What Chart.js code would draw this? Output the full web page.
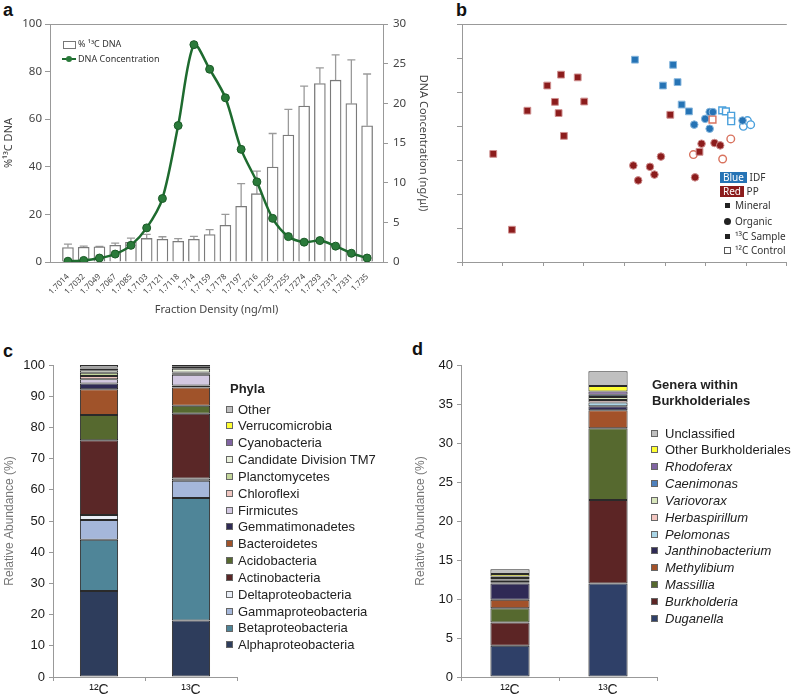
<!DOCTYPE html>
<html>
<head>
<meta charset="utf-8">
<script src="https://cdn.jsdelivr.net/npm/chart.js@4.4.0/dist/chart.umd.min.js"></script>
<style>
  body { margin: 0; width: 793px; height: 697px; overflow: hidden; background: #fff; position: relative; }
  canvas { position: absolute; }
  .abs { position: absolute; white-space: nowrap; }
  .panel { position: absolute; font: bold 18px "Liberation Sans", Arial, sans-serif; color: #111; line-height: 18px; }
  .legA { font: 9px "Noto Sans", sans-serif; color: #333; line-height: 12px; }
  .legB { font: 10px "Noto Sans", sans-serif; color: #333; line-height: 12px; }
  .tag { display: inline-block; color: #fff; padding: 0 3px; line-height: 11px; }
  .legList { position: absolute; font: 13px "Liberation Sans", Arial, sans-serif; color: #222; }
  .legList .row { height: 16.85px; line-height: 16.85px; white-space: nowrap; }
  .legList .sw { display: inline-block; width: 5px; height: 5px; border: 1px solid #666; vertical-align: middle; position: relative; top: -1px; }
  .legTitle { position: absolute; font: bold 13px "Liberation Sans", Arial, sans-serif; color: #222; line-height: 16px; }
</style>
</head>
<body>
<div class="panel" style="left:3px;top:1px">a</div>
<div class="panel" style="left:456px;top:1px">b</div>
<div class="panel" style="left:3px;top:342px">c</div>
<div class="panel" style="left:412px;top:340px">d</div>

<canvas id="chartA" width="440" height="320" style="left:0;top:0"></canvas>
<canvas id="chartB" width="353" height="290" style="left:440px;top:0"></canvas>
<canvas id="chartC" width="240" height="357" style="left:0;top:340px"></canvas>
<canvas id="chartD" width="260" height="357" style="left:400px;top:340px"></canvas>

<!-- legend a -->
<div class="abs" style="left:63px;top:41px;width:11px;height:6px;border:1px solid #777;background:#fff"></div>
<div class="abs legA" style="left:78px;top:38px">% ¹³C DNA</div>
<div class="abs" style="left:62px;top:58px;width:14px;height:2px;background:#1e6b2f"></div>
<div class="abs" style="left:66px;top:56px;width:6px;height:6px;border-radius:50%;background:#2a7a3a"></div>
<div class="abs legA" style="left:78px;top:53px">DNA Concentration</div>

<!-- legend b -->
<div class="abs legB" style="left:720px;top:171px"><span class="tag" style="background:#2573b5">Blue</span> IDF</div>
<div class="abs legB" style="left:720px;top:185px"><span class="tag" style="background:#8c1c1c">Red</span> PP</div>
<div class="abs" style="left:725px;top:203px;width:5px;height:5px;background:#222"></div>
<div class="abs legB" style="left:735px;top:199px">Mineral</div>
<div class="abs" style="left:724px;top:218px;width:7px;height:7px;border-radius:50%;background:#222"></div>
<div class="abs legB" style="left:735px;top:215px">Organic</div>
<div class="abs" style="left:725px;top:234px;width:5px;height:5px;background:#222"></div>
<div class="abs legB" style="left:735px;top:230px">¹³C Sample</div>
<div class="abs" style="left:724px;top:247px;width:5px;height:5px;border:1px solid #555"></div>
<div class="abs legB" style="left:735px;top:244px">¹²C Control</div>

<!-- legend c / d -->
<div class="legTitle" style="left:230px;top:381px">Phyla</div>
<div class="legList" id="legC" style="left:226px;top:401.5px"></div>
<div class="legTitle" style="left:652px;top:377px">Genera within<br>Burkholderiales</div>
<div class="legList" id="legD" style="left:651px;top:425.5px"></div>

<script>
// ---- panel a: fractions ----
const fractions = ['1.7014', '1.7032', '1.7049', '1.7067', '1.7085', '1.7103', '1.7121', '1.7118', '1.714', '1.7159',
    '1.7178', '1.7197', '1.7216', '1.7235', '1.7255', '1.7274', '1.7293', '1.7312', '1.7331', '1.735'];
const pct13C = [6.1, 6.2, 6.4, 7.0, 8.3, 9.9, 9.5, 8.7, 9.5, 11.5, 15.4, 23.4, 28.7, 39.9, 53.3, 65.5, 75.0, 76.4, 66.6, 57.2];
const pct13CErr = [7.5, 6.7, 6.6, 7.9, 10.0, 11.6, 10.6, 9.8, 10.8, 13.6, 20.0, 32.9, 38.2, 54.0, 64.1, 73.9, 81.6, 87.0, 84.9, 79.0];
const dnaConc = [0.1, 0.2, 0.5, 1.0, 2.1, 4.3, 8.0, 17.2, 27.4, 24.3, 20.7, 14.2, 10.1, 5.5, 3.2, 2.5, 2.7, 2.0, 1.1, 0.5];

// ---- panel b: ordination points [x, y] ----
const ppMineral13 = [[0.77, 3.18], [1.23, 0.95], [1.61, 4.45], [2.10, 5.19], [2.44, 5.51], [2.85, 5.43], [2.29, 4.71],
    [2.38, 4.38], [3.01, 4.72], [2.51, 3.71], [5.13, 4.33], [5.85, 3.24]];
const ppOrganic13 = [[4.22, 2.84], [4.34, 2.40], [4.63, 2.80], [4.74, 2.57], [4.90, 3.10], [5.74, 2.49], [5.90, 3.48],
    [6.22, 3.50], [6.36, 3.43]];
const ppMineral12 = [[6.17, 4.19]];
const ppOrganic12 = [[5.70, 3.16], [6.42, 3.03], [6.62, 3.62]];
const idfMineral13 = [[4.26, 5.95], [5.20, 5.80], [4.95, 5.19], [5.31, 5.29], [5.41, 4.63], [5.59, 4.43]];
const idfOrganic13 = [[5.72, 4.04], [5.99, 4.21], [6.10, 4.41], [6.18, 4.41], [6.10, 3.92], [6.91, 4.16]];
const idfMineral12 = [[6.41, 4.46], [6.50, 4.43], [6.63, 4.30], [6.63, 4.14]];
const idfOrganic12 = [[6.93, 3.99], [7.03, 4.16], [7.11, 4.04]];

// ---- panel c: phyla (bottom to top) ----
const samples = ['¹²C', '¹³C'];
const phyla = ['Alphaproteobacteria', 'Betaproteobacteria', 'Gammaproteobacteria', 'Deltaproteobacteria', 'Actinobacteria',
    'Acidobacteria', 'Bacteroidetes', 'Gemmatimonadetes', 'Firmicutes', 'Chloroflexi', 'Planctomycetes',
    'Candidate Division TM7', 'Cyanobacteria', 'Verrucomicrobia', 'Other'];
const phylaC12 = [27.6, 16.4, 6.3, 1.6, 24.0, 8.1, 8.2, 1.9, 1.3, 1.1, 1.0, 0.8, 0.6, 0.3, 0.8];
const phylaC13 = [18.1, 39.3, 5.5, 0.7, 20.8, 2.5, 5.9, 0.6, 3.5, 0.3, 0.4, 1.2, 0.2, 0.4, 0.6];
const phylaColors = ['#2e3d5c', '#4f8598', '#a5b7da', '#e9eef7', '#5a2727', '#56692f', '#a0532a', '#2f2b55',
    '#d3c8e2', '#f0c6c0', '#c3d69b', '#eaf1dc', '#8064a2', '#ffff33', '#bfbfbf'];

// ---- panel d: genera (bottom to top) ----
const genera = ['Duganella', 'Burkholderia', 'Massillia', 'Methylibium', 'Janthinobacterium', 'Pelomonas',
    'Herbaspirillum', 'Variovorax', 'Caenimonas', 'Rhodoferax', 'Other Burkholderiales', 'Unclassified'];
const generaC12 = [4.0, 3.0, 1.8, 1.1, 2.1, 0.15, 0.2, 0.15, 0.2, 0.2, 0.3, 0.6];
const generaC13 = [12.0, 10.7, 9.2, 2.3, 0.5, 0.5, 0.3, 0.4, 0.3, 0.4, 0.7, 1.9];
const generaColors = ['#2f4068', '#5c2525', '#56692f', '#a3522a', '#2f2a55', '#a9d5e6', '#f2c6c0', '#d8e6bc',
    '#4f81bd', '#8064a2', '#ffff33', '#c0c0c0'];
const italicGenera = 10; // first 10 are genus names

const topBorder = {
    id: 'topBorder',
    afterDraw(chart) {
        const { ctx, chartArea } = chart;
        ctx.save();
        ctx.strokeStyle = '#999';
        ctx.lineWidth = 1;
        ctx.beginPath();
        ctx.moveTo(chartArea.left, chartArea.top + 0.5);
        ctx.lineTo(chartArea.right, chartArea.top + 0.5);
        ctx.stroke();
        ctx.restore();
    }
};

// upper error bars on the %13C bars
const errorBars = {
    id: 'errorBars',
    beforeDatasetsDraw(chart) {
        const { ctx, scales } = chart;
        ctx.save();
        ctx.strokeStyle = '#9a9a9a';
        ctx.lineWidth = 1.3;
        pct13C.forEach((v, i) => {
            const x = scales.x.getPixelForValue(i);
            const y0 = scales.y.getPixelForValue(v);
            const y1 = scales.y.getPixelForValue(pct13CErr[i]);
            ctx.beginPath();
            ctx.moveTo(x, y0);
            ctx.lineTo(x, y1);
            ctx.moveTo(x - 4, y1);
            ctx.lineTo(x + 4, y1);
            ctx.stroke();
        });
        ctx.restore();
    }
};

const grayAxis = { color: '#999', width: 1 };
const sansA = 'Noto Sans';

// ---------- chart a ----------
new Chart(document.getElementById('chartA'), {
    type: 'bar',
    data: {
        datasets: [{
            type: 'line',
            label: 'DNA Concentration',
            data: dnaConc.map((v, i) => ({ x: i, y: v })),
            yAxisID: 'y2',
            borderColor: '#1e6b2f',
            borderWidth: 2.5,
            pointRadius: 4,
            pointBackgroundColor: '#2a7a3a',
            pointBorderColor: '#1b5a27',
            pointBorderWidth: 1,
            tension: 0.3,
            order: 0
        }, {
            label: '%13C DNA',
            data: pct13C.map((v, i) => ({ x: i, y: v })),
            yAxisID: 'y',
            backgroundColor: '#fff',
            borderColor: '#7a7a7a',
            borderWidth: 1.3,
            barThickness: 11,
            order: 1
        }]
    },
    options: {
        responsive: false,
        animation: false,
        layout: { padding: { top: 24, left: 0, right: 0, bottom: 0 } },
        plugins: { legend: { display: false }, tooltip: { enabled: false } },
        scales: {
            x: {
                type: 'linear',
                min: -1.14,
                max: 20.01,
                offset: false,
                afterBuildTicks: (axis) => { axis.ticks = fractions.map((_, i) => ({ value: i })); },
                afterFit: (axis) => { axis.height = 58; },
                grid: { display: false },
                border: grayAxis,
                ticks: {
                    autoSkip: false, maxRotation: 45, minRotation: 45, padding: 2,
                    font: { family: sansA, size: 8 }, color: '#444',
                    callback: (v) => fractions[v] ?? ''
                },
                title: {
                    display: true, text: 'Fraction Density (ng/ml)', color: '#444',
                    font: { family: sansA, size: 11 }, padding: { top: 0, bottom: 4 }
                }
            },
            y: {
                min: 0, max: 100,
                afterFit: (axis) => { axis.width = 50; },
                ticks: { stepSize: 20, font: { family: sansA, size: 11.5 }, color: '#444', padding: 3 },
                grid: { drawOnChartArea: false, tickLength: 5, color: '#999' },
                border: grayAxis,
                title: {
                    display: true, text: '%¹³C DNA', color: '#444',
                    font: { family: sansA, size: 11 }, padding: { top: 2, bottom: 0 }
                }
            },
            y2: {
                position: 'right',
                min: 0, max: 30,
                afterFit: (axis) => { axis.width = 57; },
                ticks: { stepSize: 5, font: { family: sansA, size: 11.5 }, color: '#444', padding: 5 },
                grid: { drawOnChartArea: false, tickLength: 5, color: '#999' },
                border: grayAxis,
                title: {
                    display: true, text: 'DNA Concentration (ng/μl)', color: '#444',
                    font: { family: sansA, size: 11 }, padding: { top: 10, bottom: 0 }
                }
            }
        }
    },
    plugins: [topBorder, errorBars]
});

// ---------- chart b ----------
const redFill = '#8c1c1c', redEdge = '#cf8f8f', redOpen = '#d9735f';
const blueFill = '#2573b5', blueEdge = '#86b6dd', blueOpen = '#4aa0dc';
function pts(arr) { return arr.map(p => ({ x: p[0], y: p[1] })); }
function sq(data, bg, edge, w) { return { data: pts(data), pointStyle: 'rect', pointRadius: 4.8, backgroundColor: bg, borderColor: edge, borderWidth: w }; }
function dot(data, bg, edge, w) { return { data: pts(data), pointStyle: 'circle', pointRadius: 3.8, backgroundColor: bg, borderColor: edge, borderWidth: w }; }

new Chart(document.getElementById('chartB'), {
    type: 'scatter',
    data: {
        datasets: [
            sq(ppMineral13, redFill, redEdge, 1),
            dot(ppOrganic13, redFill, redEdge, 1),
            sq(ppMineral12, '#fff', redOpen, 1.4),
            dot(ppOrganic12, '#fff', redOpen, 1.4),
            sq(idfMineral13, blueFill, blueEdge, 1),
            dot(idfOrganic13, blueFill, blueEdge, 1),
            sq(idfMineral12, '#fff', blueOpen, 1.4),
            dot(idfOrganic12, '#fff', blueOpen, 1.4)
        ]
    },
    options: {
        responsive: false,
        animation: false,
        layout: { padding: { top: 24, left: 0, right: 1, bottom: 0 } },
        plugins: { legend: { display: false }, tooltip: { enabled: false } },
        scales: {
            x: {
                min: 0, max: 8,
                afterFit: (axis) => { axis.height = 28; },
                ticks: { display: false, stepSize: 1 },
                grid: { drawOnChartArea: false, tickLength: 4, color: '#999' },
                border: grayAxis
            },
            y: {
                min: 0, max: 7,
                afterFit: (axis) => { axis.width = 22; },
                ticks: { display: false, stepSize: 1 },
                grid: { drawOnChartArea: false, tickLength: 5, color: '#999' },
                border: grayAxis
            }
        }
    },
    plugins: [topBorder]
});

// ---------- stacked bars c and d ----------
function stackedChart(id, names, v12, v13, colors, yMax, yStep, yWidth, titlePad, barPct) {
    new Chart(document.getElementById(id), {
        type: 'bar',
        data: {
            labels: samples,
            datasets: names.map((n, i) => ({
                label: n,
                data: [v12[i], v13[i]],
                backgroundColor: colors[i],
                borderColor: '#2a2a2a',
                borderWidth: 1,
                borderSkipped: false,
                barPercentage: barPct,
                categoryPercentage: 1
            }))
        },
        options: {
            responsive: false,
            animation: false,
            layout: { padding: { top: 25, left: 0, right: 3, bottom: 0 } },
            plugins: { legend: { display: false }, tooltip: { enabled: false } },
            scales: {
                x: {
                    stacked: true,
                    afterFit: (axis) => { axis.height = 20; },
                    grid: { drawOnChartArea: false, tickLength: 4, color: '#999', offset: true },
                    border: grayAxis,
                    ticks: { font: { family: 'Liberation Sans', size: 14 }, color: '#222', padding: 1 }
                },
                y: {
                    stacked: true,
                    min: 0, max: yMax,
                    afterFit: (axis) => { axis.width = yWidth; },
                    ticks: { stepSize: yStep, font: { family: 'Liberation Sans', size: 13 }, color: '#1a1a1a', padding: 4 },
                    grid: { drawOnChartArea: false, tickLength: 4, color: '#999' },
                    border: grayAxis,
                    title: {
                        display: true, text: 'Relative Abundance (%)', color: '#777',
                        font: { family: 'Liberation Sans', size: 12 }, padding: { top: titlePad, bottom: 0 }
                    }
                }
            }
        }
    });
}

stackedChart('chartC', phyla, phylaC12, phylaC13, phylaColors, 100, 10, 53, 2, 0.415);
stackedChart('chartD', genera, generaC12, generaC13, generaColors, 40, 5, 61, 13, 0.4);

// html legends, listed top to bottom
function fillLegend(elId, names, colors, italicCount) {
    const el = document.getElementById(elId);
    for (let i = names.length - 1; i >= 0; i--) {
        const row = document.createElement('div');
        row.className = 'row';
        const sw = document.createElement('span');
        sw.className = 'sw';
        sw.style.background = colors[i];
        const txt = document.createElement('span');
        txt.textContent = names[i];
        txt.style.marginLeft = elId === 'legD' ? '7px' : '5px';
        if (i < italicCount) txt.style.fontStyle = 'italic';
        row.appendChild(sw);
        row.appendChild(txt);
        el.appendChild(row);
    }
}
fillLegend('legC', phyla, phylaColors, 0);
fillLegend('legD', genera, generaColors, italicGenera);
</script>
</body>
</html>
